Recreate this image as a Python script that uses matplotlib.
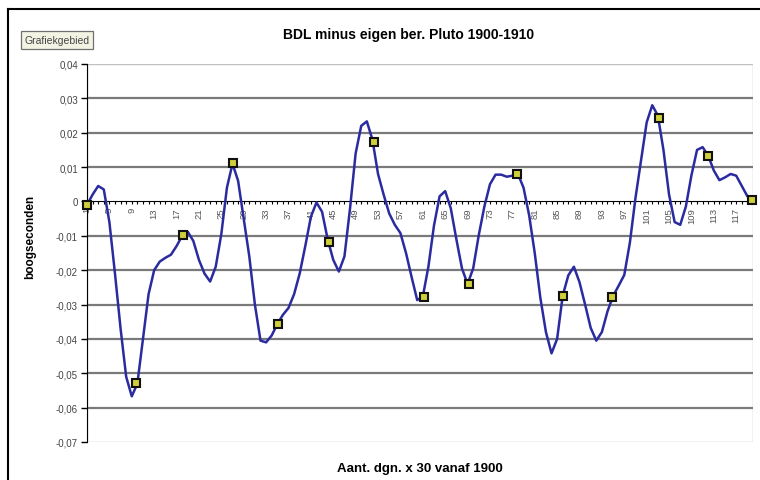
import matplotlib.pyplot as plt
from matplotlib.lines import Line2D
from matplotlib.patches import Rectangle

plt.rcParams['font.family'] = ['Liberation Sans', 'DejaVu Sans']

title = 'BDL minus eigen ber. Pluto 1900-1910'
xlabel = 'Aant. dgn. x 30 vanaf 1900'
ylabel = 'boogseconden'
button_text = 'Grafiekgebied'

# one value per 30-day step
categories = list(range(1, 121))
values = [
    -0.001, 0.002, 0.0045, 0.0035, -0.006, -0.021, -0.037, -0.051, -0.0567, -0.053,
    -0.040, -0.027, -0.020, -0.0175, -0.0164, -0.0155, -0.013, -0.010, -0.0088, -0.0115,
    -0.017, -0.021, -0.0233, -0.019, -0.0095, 0.004, 0.011, 0.006, -0.005, -0.016,
    -0.030, -0.0405, -0.041, -0.039, -0.0357, -0.033, -0.031, -0.027, -0.021, -0.013,
    -0.0045, -0.0003, -0.003, -0.011, -0.017, -0.0204, -0.016, -0.002, 0.014, 0.022,
    0.0233, 0.018, 0.008, 0.002, -0.0035, -0.0068, -0.0092, -0.015, -0.022, -0.0287,
    -0.0277, -0.019, -0.007, 0.0015, 0.003, -0.002, -0.011, -0.0195, -0.024, -0.0195,
    -0.0098, -0.0015, 0.005, 0.0078, 0.0078, 0.0072, 0.0075, 0.008, 0.004, -0.004,
    -0.015, -0.028, -0.038, -0.0442, -0.040, -0.0274, -0.0215, -0.019, -0.0235, -0.030,
    -0.0368, -0.0405, -0.038, -0.032, -0.0275, -0.0245, -0.0214, -0.012, 0.001, 0.012,
    0.023, 0.028, 0.025, 0.015, 0.002, -0.006, -0.0068, -0.0015, 0.0076, 0.015,
    0.0158, 0.0133, 0.009, 0.0062, 0.007, 0.008, 0.0075, 0.0045, 0.0015, 0.0002,
]

# the square markers
marker_x = [1, 9.8, 18.2, 27, 35.2, 44.2, 52.2, 61.2, 69.2, 77.9, 86.1, 94.8, 103.2, 112, 119.8]
marker_y = [-0.001, -0.0528, -0.0097, 0.0112, -0.0357, -0.0117, 0.0174, -0.0277, -0.024,
            0.008, -0.0274, -0.0277, 0.0243, 0.0133, 0.0004]

xtick_pos = list(range(1, 121, 4))
ytick_pos = [-0.07, -0.06, -0.05, -0.04, -0.03, -0.02, -0.01, 0, 0.01, 0.02, 0.03, 0.04]
ytick_labels = ['-0,07', '-0,06', '-0,05', '-0,04', '-0,03', '-0,02', '-0,01', '0',
                '0,01', '0,02', '0,03', '0,04']

fig = plt.figure(figsize=(7.6, 4.81), dpi=100)
ax = fig.add_axes([87 / 760, 1 - 443 / 481, (753 - 87) / 760, (443 - 65) / 481])
ax.set_xlim(1, 120)
ax.set_ylim(-0.07, 0.04)

# horizontal gridlines
for y in ytick_pos[1:-1]:
    if y != 0:
        ax.axhline(y, color='#7a7a7a', lw=1.6, zorder=1)

ax.plot(categories, values, color='#2b2ba0', lw=1.8, zorder=3, solid_joinstyle='round')
ax.plot(marker_x, marker_y, ls='none', marker='s', ms=5.2, mfc='#cfcf3a', mec='#111111',
        mew=1.5, zorder=4, clip_on=False)

ax.set_yticks(ytick_pos)
ax.set_yticklabels(ytick_labels)
ax.set_xticks(xtick_pos)
ax.set_xticklabels([str(v) for v in xtick_pos])
ax.set_xticks(categories, minor=True)

ax.tick_params(axis='y', direction='out', length=4.5, width=1, color='black',
               labelsize=7, labelcolor='#444444', pad=2)
ax.tick_params(axis='x', which='both', direction='out', length=2.5, width=0.8,
               color='black', labelsize=6.8, labelcolor='#555555', labelrotation=90, pad=1.5)

ax.spines['bottom'].set_position(('data', 0))
ax.spines['bottom'].set_color('black')
ax.spines['bottom'].set_zorder(2)
ax.spines['left'].set_color('black')
ax.spines['top'].set_visible(False)
ax.spines['right'].set_visible(False)
ax.add_patch(Rectangle((0, 0), 1, 1, transform=ax.transAxes, fill=False,
                       ec='#c0c0c0', lw=1, zorder=0))

fig.text(409 / 760, 1 - 35 / 481, title, ha='center', va='center',
         fontsize=10, fontweight='bold')
fig.text(420 / 760, 1 - 469 / 481, xlabel, ha='center', va='center',
         fontsize=9.5, fontweight='bold')
fig.text(30 / 760, 1 - 237 / 481, ylabel, ha='center', va='center', rotation=90,
         fontsize=8.5, fontweight='bold')
fig.text(57 / 760, 1 - 41 / 481, button_text, ha='center', va='center', fontsize=7.5,
         color='#444444',
         bbox=dict(boxstyle='square,pad=0.35', fc='#f3f3e4', ec='#707070', lw=0.9))

# chart area border (cropped on the right and bottom)
fig.add_artist(Line2D([8 / 760, 8 / 760], [0, 1 - 10 / 481], transform=fig.transFigure,
                      color='black', lw=1.5))
fig.add_artist(Line2D([8 / 760, 1], [1 - 10 / 481, 1 - 10 / 481], transform=fig.transFigure,
                      color='black', lw=1.5))

fig.savefig('out.png', dpi=100)
